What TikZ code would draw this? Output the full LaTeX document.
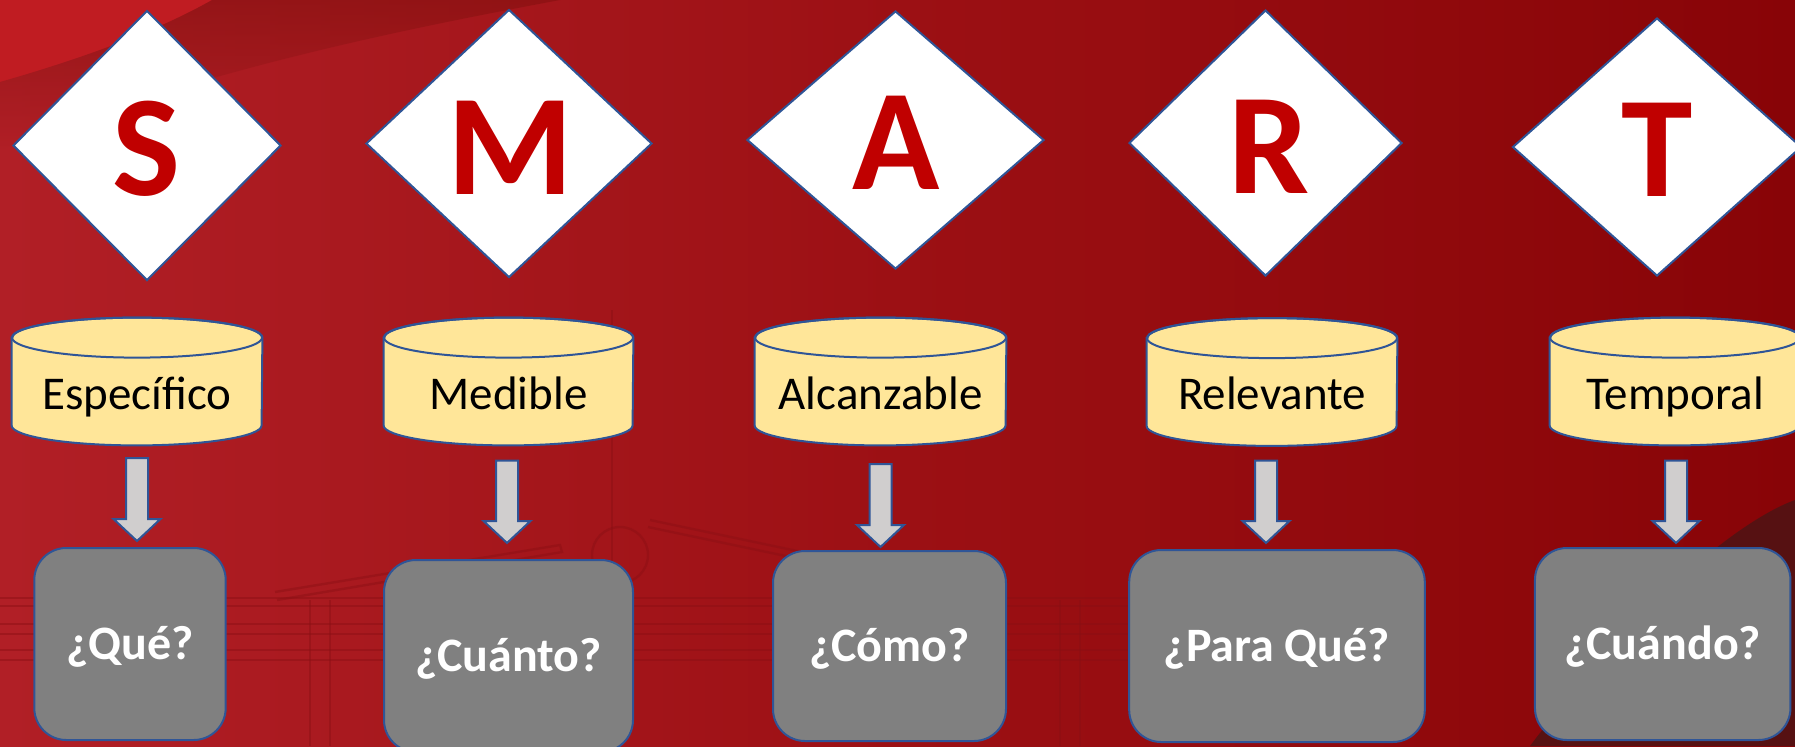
\documentclass[tikz,border=0pt]{standalone}
\usepackage{fontspec}
\setmainfont{Carlito}
\usetikzlibrary{shapes.geometric,calc}
\definecolor{bord}{HTML}{2F5597}
\definecolor{lett}{HTML}{C00000}
\definecolor{cylfill}{HTML}{FFE699}
\definecolor{arrfill}{HTML}{D0CECE}
\definecolor{boxfill}{HTML}{808080}
\definecolor{bgL}{HTML}{B11F26}
\definecolor{bgM}{HTML}{9C1014}
\definecolor{bgR}{HTML}{880407}
\definecolor{bright}{HTML}{C01C22}
\definecolor{swoosh}{HTML}{82100F}
\definecolor{deco}{HTML}{8A0F14}
\definecolor{corner}{HTML}{4E1414}
\newcommand\cylshape[2]{%
  \path[cylbody] ($(#1.north west)+(0,-10pt)$) -- ($(#1.south west)+(0,10pt)$)
    arc[start angle=180,end angle=360,x radius=#2,y radius=10pt]
    -- ($(#1.north east)+(0,-10pt)$)
    arc[start angle=0,end angle=180,x radius=#2,y radius=10pt] -- cycle;
  \draw[cylline] ($(#1.north)+(0,-10pt)$) ellipse[x radius=#2,y radius=10pt];}
\newcommand\blockarrow[2]{%
  \path[blockar] let \p1=(#1), \p2=(#2) in
    (\x1-5.5pt,\y1) -- (\x1-5.5pt,\y2+11pt) -- (\x1-11.75pt,\y2+11pt) -- (\x1,\y2)
    -- (\x1+11.75pt,\y2+11pt) -- (\x1+5.5pt,\y2+11pt) -- (\x1+5.5pt,\y1) -- cycle;}
\begin{document}
\begin{tikzpicture}[x=0.5pt,y=0.5pt,
  dia/.style={diamond,draw=bord,line width=1pt,fill=white,inner sep=0pt},
  letter/.style={text=lett,font=\fontsize{72}{72}\selectfont\bfseries,inner sep=0pt},
  cylnode/.style={draw=none,inner sep=0pt},
  cylbody/.style={fill=cylfill,draw=bord,line width=1pt},
  cylline/.style={draw=bord,line width=1pt},
  cyltext/.style={font=\fontsize{23.5}{26}\selectfont,text=black,inner sep=0pt},
  blockar/.style={fill=arrfill,draw=bord,line width=1pt,line join=miter},
  qbox/.style={rectangle,rounded corners=16pt,draw=bord,line width=1pt,fill=boxfill,
    text=white,font=\fontsize{24}{26}\selectfont\bfseries,inner sep=0pt,
    text height=15.5pt,text depth=0pt}]
% background
\useasboundingbox (0,0) rectangle (1795,-746);
\shade[left color=bgL,right color=bgR,middle color=bgM] (0,0) rectangle (1795,-746);
\fill[bright] (0,0) -- (0,-82) .. controls (70,-62) and (150,-35) .. (212,0) -- cycle;
\shade[top color=swoosh,bottom color=bgL,opacity=0.55] (0,-82) .. controls (70,-62) and (150,-35) .. (212,0) -- (560,0) .. controls (400,-30) and (200,-70) .. (0,-150) -- cycle;
\fill[corner,opacity=0.85] (1795,-500) .. controls (1740,-520) and (1640,-600) .. (1530,-746) -- (1795,-746) -- cycle;
% faint building decoration
\begin{scope}[draw=deco,line width=1.2pt,opacity=0.45]
  \draw (0,-598) -- (1400,-598);
  \draw (0,-606) -- (1400,-606);
  \draw (0,-624) -- (1400,-624);
  \draw (0,-634) -- (1400,-634);
  \draw (0,-650) -- (1400,-650);
  \draw (0,-660) -- (1400,-660);
  \draw (275,-592) -- (560,-545) -- (562,-552) -- (277,-600);
  \draw (650,-520) -- (840,-560) -- (838,-567) -- (648,-527);
  \draw (310,-600) -- (310,-746);
  \draw (330,-600) -- (330,-746);
  \draw (612,-310) -- (612,-746);
  \draw (1060,-600) -- (1060,-746);
  \draw (1080,-600) -- (1080,-746);
  \draw (1400,-590) -- (1400,-746);
  \draw (620,-555) circle[radius=14pt];
\end{scope}
% diamonds
\node[dia,minimum width=134pt,minimum height=135pt] (dS) at (147,-145.5) {};
\node[dia,minimum width=143pt,minimum height=134pt] (dM) at (509,-143.5) {};
\node[dia,minimum width=148.5pt,minimum height=129pt] (dA) at (895.5,-140) {};
\node[dia,minimum width=136.5pt,minimum height=133pt] (dR) at (1265.5,-143) {};
\node[dia,minimum width=144.5pt,minimum height=129pt] (dT) at (1657,-147) {};
\node[letter] (lS) at (147,-148.5) {S};
\node[letter] (lM) at (510,-147.5) {M};
\node[letter] (lA) at (896,-143) {A};
\node[letter] (lR) at (1269,-147) {R};
\node[letter] (lT) at (1657,-150) {T};
% cylinders
\node[cylnode,minimum width=125pt,minimum height=63.5pt] (c1) at (137,-381.5) {};
\node[cylnode,minimum width=124.5pt,minimum height=63.5pt] (c2) at (508.5,-381.5) {};
\node[cylnode,minimum width=125.5pt,minimum height=63.5pt] (c3) at (880.5,-381.5) {};
\node[cylnode,minimum width=125pt,minimum height=63.5pt] (c4) at (1272,-382) {};
\node[cylnode,minimum width=125pt,minimum height=63.5pt] (c5) at (1675,-381.5) {};
\cylshape{c1}{62.5pt}
\cylshape{c2}{62.25pt}
\cylshape{c3}{62.75pt}
\cylshape{c4}{62.5pt}
\cylshape{c5}{62.5pt}
\node[cyltext,anchor=base] (t1) at (137,-409) {Específico};
\node[cyltext,anchor=base] (t2) at (508.5,-409) {Medible};
\node[cyltext,anchor=base] (t3) at (880.5,-409) {Alcanzable};
\node[cyltext,anchor=base] (t4) at (1272,-409) {Relevante};
\node[cyltext,anchor=base] (t5) at (1675,-409) {Temporal};
% question boxes
\node[qbox,minimum width=95.7pt,minimum height=96pt] (b1) at (130,-644) {¿Qué?};
\node[qbox,minimum width=124.5pt,minimum height=96pt] (b2) at (508.5,-656) {¿Cuánto?};
\node[qbox,minimum width=116.5pt,minimum height=95pt] (b3) at (889.5,-646) {¿Cómo?};
\node[qbox,minimum width=147.8pt,minimum height=96pt] (b4) at (1277,-646) {¿Para Qué?};
\node[qbox,minimum width=127.75pt,minimum height=96pt] (b5) at (1662.7,-644) {¿Cuándo?};
% arrows
\coordinate (s1) at (137,-458);   \coordinate (e1) at (137,-541);
\coordinate (s2) at (507,-460.5); \coordinate (e2) at (507,-543);
\coordinate (s3) at (880.5,-464); \coordinate (e3) at (880.5,-547);
\coordinate (s4) at (1266,-460.5);\coordinate (e4) at (1266,-543);
\coordinate (s5) at (1676,-460.5);\coordinate (e5) at (1676,-543);
\blockarrow{s1}{e1}
\blockarrow{s2}{e2}
\blockarrow{s3}{e3}
\blockarrow{s4}{e4}
\blockarrow{s5}{e5}
\end{tikzpicture}
\end{document}
